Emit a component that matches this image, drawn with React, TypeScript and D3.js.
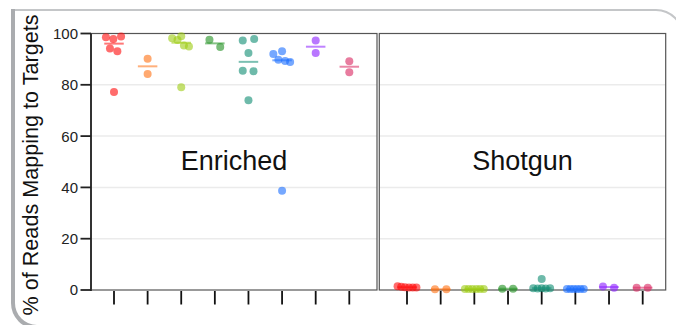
import React, { Component } from 'react'
import * as d3 from 'd3'

const categories = ['S1', 'S2', 'S3', 'S4', 'S5', 'S6', 'S7', 'S8']
const colours = ['#ff0a0a', '#ff6f10', '#9ccc10', '#1f8f1f', '#0e8c72', '#1a6eff', '#8a1cff', '#d9245f']
const panelNames = ['Enriched', 'Shotgun']
const yTicks = [0, 20, 40, 60, 80, 100]

// % of reads mapping to targets, one list per category
const enriched = [
	[98.5, 97.9, 98.8, 94.2, 93.1, 77.2],
	[90.2, 84.2],
	[98.1, 98.9, 97.5, 95.3, 94.9, 79.0],
	[97.6, 94.7],
	[97.3, 97.9, 92.4, 85.5, 85.3, 74.0],
	[92.0, 93.1, 89.8, 89.3, 88.9, 38.7],
	[97.3, 92.4],
	[89.2, 84.9],
]
const shotgun = [
	[1.5, 1.3, 1.1, 1.0, 1.0, 1.0],
	[0.3, 0.3],
	[0.4, 0.4, 0.4, 0.4, 0.4, 0.4],
	[0.5, 0.5],
	[4.3, 0.7, 0.6, 0.7, 0.6, 0.7],
	[0.4, 0.4, 0.4, 0.4, 0.4, 0.4],
	[1.4, 0.9],
	[0.9, 0.9],
]

// horizontal jitter, in units of the category spacing
const enrichedJitter = [
	[-0.24, -0.02, 0.21, -0.12, 0.1, 0],
	[0, 0],
	[-0.27, 0, -0.11, 0.08, 0.23, 0],
	[-0.16, 0.16],
	[-0.17, 0.17, 0, -0.17, 0.15, 0],
	[-0.26, 0, -0.11, 0.09, 0.24, 0],
	[0, 0],
	[0, 0],
]
const shotgunJitter = [
	[-0.28, -0.17, -0.06, 0.06, 0.17, 0.28],
	[-0.17, 0.17],
	[-0.28, -0.17, -0.06, 0.06, 0.17, 0.28],
	[-0.17, 0.15],
	[0, -0.25, -0.12, 0, 0.12, 0.25],
	[-0.25, -0.15, -0.05, 0.05, 0.15, 0.25],
	[-0.18, 0.15],
	[-0.18, 0.15],
]

const FONT = '"Liberation Sans", Arial, Helvetica, sans-serif'

export default class App extends Component {

	constructor(props) {
		super(props)
		this.width = 676
		this.height = 325
		this.top = 33.5
		this.bottom = 290
		this.panels = [
			{ x0: 91, x1: 377, padL: 23, padR: 27.7, values: enriched, jitter: enrichedJitter },
			{ x0: 379.3, x1: 665.7, padL: 27.7, padR: 23, values: shotgun, jitter: shotgunJitter },
		]
	}

	componentDidMount() {
		const svg = d3.select(this.svg)
		svg.selectAll('*').remove()

		svg.append('rect')
			.attr('width', this.width)
			.attr('height', this.height)
			.attr('fill', '#fff')

		// figure frame (only its top-left part is in view)
		svg.append('path')
			.attr('d', 'M12 10 H656 A26.7 26.7 0 0 1 682.7 36.7')
			.attr('fill', 'none')
			.attr('stroke', '#c4c6c8')
			.attr('stroke-width', 2)
		svg.append('path')
			.attr('d', 'M13 9 V303 A24 24 0 0 0 37 327')
			.attr('fill', 'none')
			.attr('stroke', '#aaacaf')
			.attr('stroke-width', 4)

		const yScale = d3.scaleLinear()
			.domain([0, 100])
			.range([this.bottom, this.top])

		this.panels.forEach((p, pi) => {
			const xScale = d3.scalePoint()
				.domain(categories)
				.range([p.x0 + p.padL, p.x1 - p.padR])
			const step = xScale.step()
			const g = svg.append('g')

			// grid
			g.selectAll('line.grid')
				.data(yTicks.filter(t => t > 0 && t < 100))
				.enter()
				.append('line')
				.attr('x1', p.x0)
				.attr('x2', p.x1)
				.attr('y1', d => yScale(d))
				.attr('y2', d => yScale(d))
				.attr('stroke', '#ebebeb')
				.attr('stroke-width', 1.5)

			// panel border
			g.append('rect')
				.attr('x', p.x0)
				.attr('y', this.top)
				.attr('width', p.x1 - p.x0)
				.attr('height', this.bottom - this.top)
				.attr('fill', 'none')
				.attr('stroke', '#555')
				.attr('stroke-width', 1.2)

			// x ticks
			g.selectAll('line.xtick')
				.data(categories)
				.enter()
				.append('line')
				.attr('x1', d => xScale(d))
				.attr('x2', d => xScale(d))
				.attr('y1', this.bottom + 1)
				.attr('y2', this.bottom + 14.5)
				.attr('stroke', '#111')
				.attr('stroke-width', 1.8)

			// points
			categories.forEach((c, ci) => {
				const vals = p.values[ci]
				g.selectAll(null)
					.data(vals)
					.enter()
					.append('circle')
					.attr('cx', (d, i) => xScale(c) + p.jitter[ci][i] * step)
					.attr('cy', d => yScale(d))
					.attr('r', 4)
					.attr('fill', colours[ci])
					.attr('fill-opacity', 0.6)

				const med = d3.median(vals)
				g.append('line')
					.attr('x1', xScale(c) - step * 0.29)
					.attr('x2', xScale(c) + step * 0.29)
					.attr('y1', yScale(med))
					.attr('y2', yScale(med))
					.attr('stroke', colours[ci])
					.attr('stroke-opacity', 0.55)
					.attr('stroke-width', 2)
			})

			g.append('text')
				.attr('x', (p.x0 + p.x1) / 2)
				.attr('y', 170)
				.attr('text-anchor', 'middle')
				.attr('font-family', FONT)
				.attr('font-size', 27)
				.attr('fill', '#111')
				.text(panelNames[pi])
		})

		// y axis
		const yAxis = svg.append('g')
		yAxis.append('line')
			.attr('x1', 91)
			.attr('x2', 91)
			.attr('y1', this.top)
			.attr('y2', this.bottom + 1)
			.attr('stroke', '#333')
			.attr('stroke-width', 2)
		yAxis.selectAll('line.ytick')
			.data(yTicks)
			.enter()
			.append('line')
			.attr('x1', 80.5)
			.attr('x2', 91)
			.attr('y1', d => yScale(d))
			.attr('y2', d => yScale(d))
			.attr('stroke', '#222')
			.attr('stroke-width', 1.8)
		yAxis.selectAll('text')
			.data(yTicks)
			.enter()
			.append('text')
			.attr('x', 78)
			.attr('y', d => yScale(d))
			.attr('dy', '0.36em')
			.attr('text-anchor', 'end')
			.attr('font-family', FONT)
			.attr('font-size', 15)
			.attr('fill', '#222')
			.text(d => d)

		svg.append('text')
			.attr('transform', 'translate(38,165) rotate(-90)')
			.attr('text-anchor', 'middle')
			.attr('font-family', FONT)
			.attr('font-size', 21.6)
			.attr('fill', '#111')
			.text('% of Reads Mapping to Targets')
	}

	render() {
		return (
			<svg
				ref={svg => this.svg = svg}
				width={676}
				height={325}
				style={{ position: 'absolute', left: 0, top: 0, display: 'block' }}
			/>
		)
	}
}
